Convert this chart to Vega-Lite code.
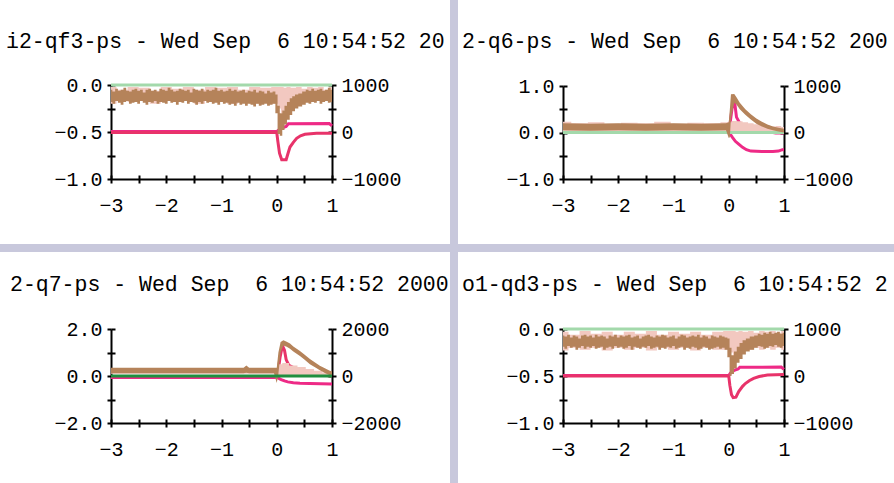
{
 "$schema": "https://vega.github.io/schema/vega-lite/v6.json",
 "background": "#c8c8dc",
 "padding": 0,
 "bounds": "flush",
 "spacing": 8,
 "columns": 2,
 "resolve": {"scale": {"x": "independent", "y": "independent"}},
 "config": {
  "view": {"stroke": null},
  "axis": {"domainColor": "#000", "domainWidth": 2, "tickColor": "#000", "tickWidth": 2, "tickSize": 4, "labelFont": "Liberation Mono", "labelFontSize": 20, "labelColor": "#000", "grid": false, "gridColor": "#000", "gridWidth": 2, "labelFlush": false, "labelOverlap": false, "labelBound": false},
  "title": {"font": "Liberation Mono", "fontSize": 21.5, "fontWeight": "normal", "color": "#000", "anchor": "start", "frame": "group", "baseline": "middle"}
 },
 "datasets": {
  "g": [{"x": -3, "v": 0}, {"x": 1, "v": 0}],
  "p1b": [
   {"x": -3, "lo": -0.18, "hi": -0.05}, {"x": -2.95, "lo": -0.2, "hi": -0.07}, {"x": -2.9, "lo": -0.17, "hi": -0.04}, {"x": -2.85, "lo": -0.19, "hi": -0.06},
   {"x": -2.8, "lo": -0.21, "hi": -0.05}, {"x": -2.75, "lo": -0.18, "hi": -0.03}, {"x": -2.7, "lo": -0.17, "hi": -0.06}, {"x": -2.65, "lo": -0.2, "hi": -0.07},
   {"x": -2.6, "lo": -0.19, "hi": -0.05}, {"x": -2.55, "lo": -0.18, "hi": -0.04}, {"x": -2.5, "lo": -0.2, "hi": -0.06}, {"x": -2.45, "lo": -0.17, "hi": -0.05},
   {"x": -2.4, "lo": -0.19, "hi": -0.08}, {"x": -2.35, "lo": -0.21, "hi": -0.05}, {"x": -2.3, "lo": -0.18, "hi": -0.04}, {"x": -2.25, "lo": -0.19, "hi": -0.06},
   {"x": -2.2, "lo": -0.17, "hi": -0.05}, {"x": -2.15, "lo": -0.2, "hi": -0.07}, {"x": -2.1, "lo": -0.18, "hi": -0.04}, {"x": -2.05, "lo": -0.19, "hi": -0.05},
   {"x": -2, "lo": -0.2, "hi": -0.06}, {"x": -1.95, "lo": -0.17, "hi": -0.03}, {"x": -1.9, "lo": -0.19, "hi": -0.05}, {"x": -1.85, "lo": -0.18, "hi": -0.07},
   {"x": -1.8, "lo": -0.21, "hi": -0.06}, {"x": -1.75, "lo": -0.18, "hi": -0.04}, {"x": -1.7, "lo": -0.19, "hi": -0.05}, {"x": -1.65, "lo": -0.17, "hi": -0.06},
   {"x": -1.6, "lo": -0.2, "hi": -0.05}, {"x": -1.55, "lo": -0.18, "hi": -0.08}, {"x": -1.5, "lo": -0.19, "hi": -0.04}, {"x": -1.45, "lo": -0.21, "hi": -0.05},
   {"x": -1.4, "lo": -0.18, "hi": -0.06}, {"x": -1.35, "lo": -0.2, "hi": -0.04}, {"x": -1.3, "lo": -0.17, "hi": -0.07}, {"x": -1.25, "lo": -0.19, "hi": -0.05},
   {"x": -1.2, "lo": -0.18, "hi": -0.06}, {"x": -1.15, "lo": -0.2, "hi": -0.05}, {"x": -1.1, "lo": -0.19, "hi": -0.03}, {"x": -1.05, "lo": -0.21, "hi": -0.06},
   {"x": -1, "lo": -0.18, "hi": -0.05}, {"x": -0.95, "lo": -0.2, "hi": -0.07}, {"x": -0.9, "lo": -0.19, "hi": -0.06}, {"x": -0.85, "lo": -0.21, "hi": -0.04},
   {"x": -0.8, "lo": -0.2, "hi": -0.06}, {"x": -0.75, "lo": -0.22, "hi": -0.05}, {"x": -0.7, "lo": -0.19, "hi": -0.07}, {"x": -0.65, "lo": -0.21, "hi": -0.06},
   {"x": -0.6, "lo": -0.2, "hi": -0.05}, {"x": -0.55, "lo": -0.22, "hi": -0.08}, {"x": -0.5, "lo": -0.2, "hi": -0.06}, {"x": -0.45, "lo": -0.21, "hi": -0.07},
   {"x": -0.4, "lo": -0.23, "hi": -0.05}, {"x": -0.35, "lo": -0.2, "hi": -0.08}, {"x": -0.3, "lo": -0.22, "hi": -0.06}, {"x": -0.25, "lo": -0.21, "hi": -0.07},
   {"x": -0.2, "lo": -0.2, "hi": -0.09}, {"x": -0.15, "lo": -0.22, "hi": -0.06}, {"x": -0.1, "lo": -0.21, "hi": -0.08}, {"x": -0.05, "lo": -0.2, "hi": -0.07},
   {"x": 0.0, "lo": -0.3, "hi": -0.1}, {"x": 0.03, "lo": -0.52, "hi": -0.22},
   {"x": 0.08, "lo": -0.54, "hi": -0.3}, {"x": 0.12, "lo": -0.48, "hi": -0.27}, {"x": 0.16, "lo": -0.42, "hi": -0.22}, {"x": 0.21, "lo": -0.37, "hi": -0.18},
   {"x": 0.26, "lo": -0.32, "hi": -0.14}, {"x": 0.3, "lo": -0.28, "hi": -0.12}, {"x": 0.36, "lo": -0.25, "hi": -0.1}, {"x": 0.42, "lo": -0.23, "hi": -0.09},
   {"x": 0.5, "lo": -0.21, "hi": -0.07}, {"x": 0.55, "lo": -0.19, "hi": -0.05}, {"x": 0.6, "lo": -0.2, "hi": -0.06}, {"x": 0.65, "lo": -0.18, "hi": -0.04},
   {"x": 0.7, "lo": -0.19, "hi": -0.06}, {"x": 0.75, "lo": -0.17, "hi": -0.05}, {"x": 0.8, "lo": -0.2, "hi": -0.04}, {"x": 0.85, "lo": -0.18, "hi": -0.06},
   {"x": 0.9, "lo": -0.17, "hi": -0.05}, {"x": 0.95, "lo": -0.19, "hi": -0.03}, {"x": 1.0, "lo": -0.18, "hi": -0.05}
  ],
  "p1k": [
   {"x": -3.0, "lo": -0.2, "hi": -0.02}, {"x": -2.8, "lo": -0.16, "hi": -0.05}, {"x": -2.6, "lo": -0.18, "hi": -0.02}, {"x": -2.4, "lo": -0.16, "hi": -0.03},
   {"x": -2.2, "lo": -0.2, "hi": -0.06}, {"x": -2.0, "lo": -0.16, "hi": -0.02}, {"x": -1.8, "lo": -0.18, "hi": -0.04}, {"x": -1.6, "lo": -0.16, "hi": -0.02},
   {"x": -1.4, "lo": -0.2, "hi": -0.05}, {"x": -1.2, "lo": -0.16, "hi": -0.02}, {"x": -1.0, "lo": -0.18, "hi": -0.03}, {"x": -0.8, "lo": -0.2, "hi": -0.02},
   {"x": -0.6, "lo": -0.16, "hi": -0.05}, {"x": -0.4, "lo": -0.2, "hi": -0.02}, {"x": -0.2, "lo": -0.18, "hi": -0.03}, {"x": 0.0, "lo": -0.2, "hi": -0.02},
   {"x": 0.05, "lo": -0.25, "hi": -0.02}, {"x": 0.1, "lo": -0.3, "hi": -0.02}, {"x": 0.15, "lo": -0.27, "hi": -0.03}, {"x": 0.2, "lo": -0.22, "hi": -0.02},
   {"x": 0.3, "lo": -0.17, "hi": -0.03}, {"x": 0.4, "lo": -0.15, "hi": -0.02}, {"x": 0.5, "lo": -0.14, "hi": -0.04}, {"x": 0.6, "lo": -0.16, "hi": -0.02},
   {"x": 0.7, "lo": -0.14, "hi": -0.03}, {"x": 0.8, "lo": -0.16, "hi": -0.02}, {"x": 0.9, "lo": -0.14, "hi": -0.05}, {"x": 1.0, "lo": -0.16, "hi": -0.02}
  ],
  "p1c": [
   {"x": -3, "v": -10}, {"x": 0, "v": -10}, {"x": 0.02, "v": -200}, {"x": 0.05, "v": -450}, {"x": 0.09, "v": -590}, {"x": 0.17, "v": -590},
   {"x": 0.21, "v": -430}, {"x": 0.24, "v": -320}, {"x": 0.3, "v": -220}, {"x": 0.36, "v": -135}, {"x": 0.43, "v": -80}, {"x": 0.51, "v": -50},
   {"x": 0.72, "v": -28}, {"x": 1.0, "v": -28}
  ],
  "p1m": [
   {"x": -3, "v": 8}, {"x": 0, "v": 8}, {"x": 0.03, "v": 40}, {"x": 0.1, "v": 90}, {"x": 0.17, "v": 120}, {"x": 0.21, "v": 175}, {"x": 0.95, "v": 180}, {"x": 1.0, "v": 130}
  ],
  "p2b": [
   {"x": -3.0, "lo": 0.05, "hi": 0.2}, {"x": -2.5, "lo": 0.04, "hi": 0.19}, {"x": -2.0, "lo": 0.05, "hi": 0.2}, {"x": -1.5, "lo": 0.04, "hi": 0.19},
   {"x": -1.0, "lo": 0.05, "hi": 0.2}, {"x": -0.5, "lo": 0.04, "hi": 0.19}, {"x": -0.05, "lo": 0.05, "hi": 0.2}, {"x": 0.0, "lo": -0.12, "hi": 0.22},
   {"x": 0.02, "lo": -0.1, "hi": 0.5}, {"x": 0.04, "lo": 0.3, "hi": 0.82}, {"x": 0.1, "lo": 0.64, "hi": 0.83}, {"x": 0.14, "lo": 0.6, "hi": 0.76},
   {"x": 0.2, "lo": 0.5, "hi": 0.64}, {"x": 0.3, "lo": 0.38, "hi": 0.5}, {"x": 0.4, "lo": 0.28, "hi": 0.39}, {"x": 0.5, "lo": 0.19, "hi": 0.3},
   {"x": 0.6, "lo": 0.13, "hi": 0.23}, {"x": 0.7, "lo": 0.08, "hi": 0.17}, {"x": 0.8, "lo": 0.05, "hi": 0.13}, {"x": 0.9, "lo": 0.02, "hi": 0.1},
   {"x": 1.0, "lo": 0.0, "hi": 0.08}
  ],
  "p2k": [
   {"x": -3.0, "lo": 0.02, "hi": 0.23}, {"x": -2.7, "lo": 0.02, "hi": 0.2}, {"x": -2.4, "lo": 0.02, "hi": 0.22}, {"x": -2.1, "lo": 0.02, "hi": 0.19},
   {"x": -1.8, "lo": 0.02, "hi": 0.21}, {"x": -1.5, "lo": 0.02, "hi": 0.2}, {"x": -1.2, "lo": 0.02, "hi": 0.23}, {"x": -0.9, "lo": 0.02, "hi": 0.19},
   {"x": -0.6, "lo": 0.02, "hi": 0.21}, {"x": -0.3, "lo": 0.02, "hi": 0.2}, {"x": 0.0, "lo": 0.02, "hi": 0.22}, {"x": 0.1, "lo": 0.0, "hi": 0.25},
   {"x": 0.2, "lo": 0.0, "hi": 0.24}, {"x": 0.3, "lo": 0.0, "hi": 0.22}, {"x": 0.4, "lo": 0.0, "hi": 0.2}, {"x": 0.5, "lo": 0.0, "hi": 0.18},
   {"x": 0.6, "lo": 0.0, "hi": 0.16}, {"x": 0.7, "lo": 0.0, "hi": 0.15}, {"x": 0.8, "lo": 0.0, "hi": 0.13}, {"x": 0.9, "lo": 0.0, "hi": 0.14},
   {"x": 1.0, "lo": 0.0, "hi": 0.12}
  ],
  "p2s": [
   {"x": -3, "v": 0}, {"x": 0, "v": 0}, {"x": 0.03, "v": 250}, {"x": 0.06, "v": 520}, {"x": 0.09, "v": 650}, {"x": 0.11, "v": 620},
   {"x": 0.14, "v": 330}, {"x": 0.2, "v": 200}, {"x": 0.3, "v": 130}, {"x": 0.5, "v": 60}, {"x": 0.7, "v": 20}, {"x": 0.85, "v": -10}, {"x": 1.0, "v": -10}
  ],
  "p2l": [
   {"x": -3, "v": 0}, {"x": 0, "v": 0}, {"x": 0.03, "v": -40}, {"x": 0.07, "v": -110}, {"x": 0.12, "v": -190}, {"x": 0.18, "v": -250},
   {"x": 0.25, "v": -320}, {"x": 0.32, "v": -370}, {"x": 0.4, "v": -400}, {"x": 0.6, "v": -410}, {"x": 0.8, "v": -410}, {"x": 0.9, "v": -400},
   {"x": 0.97, "v": -370}, {"x": 1.0, "v": -370}
  ],
  "p3b": [
   {"x": -3.0, "lo": 0.12, "hi": 0.35}, {"x": -2.0, "lo": 0.12, "hi": 0.35}, {"x": -1.0, "lo": 0.12, "hi": 0.35}, {"x": -0.6, "lo": 0.12, "hi": 0.35},
   {"x": -0.55, "lo": 0.14, "hi": 0.45}, {"x": -0.5, "lo": 0.12, "hi": 0.35}, {"x": -0.05, "lo": 0.12, "hi": 0.35}, {"x": 0.0, "lo": -0.3, "hi": 0.35},
   {"x": 0.03, "lo": 0.1, "hi": 1.0}, {"x": 0.07, "lo": 1.0, "hi": 1.45}, {"x": 0.12, "lo": 1.3, "hi": 1.52}, {"x": 0.18, "lo": 1.25, "hi": 1.46},
   {"x": 0.24, "lo": 1.16, "hi": 1.38}, {"x": 0.3, "lo": 1.04, "hi": 1.26}, {"x": 0.42, "lo": 0.85, "hi": 1.06}, {"x": 0.5, "lo": 0.7, "hi": 0.92},
   {"x": 0.6, "lo": 0.5, "hi": 0.72}, {"x": 0.7, "lo": 0.36, "hi": 0.56}, {"x": 0.78, "lo": 0.24, "hi": 0.44}, {"x": 0.88, "lo": 0.12, "hi": 0.32},
   {"x": 0.96, "lo": 0.03, "hi": 0.22}, {"x": 1.0, "lo": 0.0, "hi": 0.2}
  ],
  "p3k": [
   {"x": -3.0, "lo": 0.1, "hi": 0.3}, {"x": 0.0, "lo": 0.1, "hi": 0.3}, {"x": 0.05, "lo": 0.02, "hi": 0.5}, {"x": 0.15, "lo": 0.02, "hi": 0.55},
   {"x": 0.3, "lo": 0.02, "hi": 0.45}, {"x": 0.45, "lo": 0.02, "hi": 0.38}, {"x": 0.6, "lo": 0.02, "hi": 0.3}, {"x": 0.75, "lo": 0.02, "hi": 0.22},
   {"x": 0.9, "lo": 0.02, "hi": 0.15}, {"x": 1.0, "lo": 0.02, "hi": 0.12}
  ],
  "p3s": [
   {"x": -3, "v": -50}, {"x": 0, "v": -50}, {"x": 0.03, "v": 300}, {"x": 0.06, "v": 800}, {"x": 0.09, "v": 1150}, {"x": 0.11, "v": 1250},
   {"x": 0.14, "v": 1100}, {"x": 0.17, "v": 700}, {"x": 0.22, "v": 450}, {"x": 0.35, "v": 300}, {"x": 0.5, "v": 180}, {"x": 0.7, "v": 80},
   {"x": 0.9, "v": 20}, {"x": 1.0, "v": 0}
  ],
  "p3l": [
   {"x": -3, "v": -60}, {"x": 0, "v": -60}, {"x": 0.03, "v": -90}, {"x": 0.08, "v": -150}, {"x": 0.14, "v": -210}, {"x": 0.2, "v": -250},
   {"x": 0.3, "v": -290}, {"x": 0.42, "v": -310}, {"x": 0.6, "v": -320}, {"x": 0.8, "v": -330}, {"x": 1.0, "v": -340}
  ],
  "p4b": [
   {"x": -3, "lo": -0.19, "hi": -0.07}, {"x": -2.95, "lo": -0.21, "hi": -0.08}, {"x": -2.9, "lo": -0.18, "hi": -0.06}, {"x": -2.85, "lo": -0.2, "hi": -0.09},
   {"x": -2.8, "lo": -0.19, "hi": -0.07}, {"x": -2.75, "lo": -0.22, "hi": -0.08}, {"x": -2.7, "lo": -0.2, "hi": -0.1}, {"x": -2.65, "lo": -0.18, "hi": -0.07},
   {"x": -2.6, "lo": -0.21, "hi": -0.06}, {"x": -2.55, "lo": -0.19, "hi": -0.08}, {"x": -2.5, "lo": -0.2, "hi": -0.07}, {"x": -2.45, "lo": -0.18, "hi": -0.09},
   {"x": -2.4, "lo": -0.21, "hi": -0.06}, {"x": -2.35, "lo": -0.2, "hi": -0.08}, {"x": -2.3, "lo": -0.19, "hi": -0.07}, {"x": -2.25, "lo": -0.22, "hi": -0.08},
   {"x": -2.2, "lo": -0.2, "hi": -0.1}, {"x": -2.15, "lo": -0.19, "hi": -0.07}, {"x": -2.1, "lo": -0.21, "hi": -0.08}, {"x": -2.05, "lo": -0.18, "hi": -0.06},
   {"x": -2, "lo": -0.2, "hi": -0.09}, {"x": -1.95, "lo": -0.19, "hi": -0.07}, {"x": -1.9, "lo": -0.21, "hi": -0.08}, {"x": -1.85, "lo": -0.2, "hi": -0.07},
   {"x": -1.8, "lo": -0.18, "hi": -0.06}, {"x": -1.75, "lo": -0.22, "hi": -0.09}, {"x": -1.7, "lo": -0.19, "hi": -0.08}, {"x": -1.65, "lo": -0.2, "hi": -0.07},
   {"x": -1.6, "lo": -0.21, "hi": -0.1}, {"x": -1.55, "lo": -0.19, "hi": -0.08}, {"x": -1.5, "lo": -0.2, "hi": -0.07}, {"x": -1.45, "lo": -0.18, "hi": -0.06},
   {"x": -1.4, "lo": -0.21, "hi": -0.08}, {"x": -1.35, "lo": -0.2, "hi": -0.09}, {"x": -1.3, "lo": -0.19, "hi": -0.07}, {"x": -1.25, "lo": -0.22, "hi": -0.08},
   {"x": -1.2, "lo": -0.2, "hi": -0.06}, {"x": -1.15, "lo": -0.21, "hi": -0.07}, {"x": -1.1, "lo": -0.19, "hi": -0.09}, {"x": -1.05, "lo": -0.2, "hi": -0.08},
   {"x": -1, "lo": -0.18, "hi": -0.07}, {"x": -0.95, "lo": -0.21, "hi": -0.1}, {"x": -0.9, "lo": -0.2, "hi": -0.08}, {"x": -0.85, "lo": -0.19, "hi": -0.06},
   {"x": -0.8, "lo": -0.22, "hi": -0.07}, {"x": -0.75, "lo": -0.2, "hi": -0.09}, {"x": -0.7, "lo": -0.21, "hi": -0.08}, {"x": -0.65, "lo": -0.19, "hi": -0.07},
   {"x": -0.6, "lo": -0.2, "hi": -0.08}, {"x": -0.55, "lo": -0.22, "hi": -0.06}, {"x": -0.5, "lo": -0.21, "hi": -0.09}, {"x": -0.45, "lo": -0.19, "hi": -0.07},
   {"x": -0.4, "lo": -0.2, "hi": -0.08}, {"x": -0.35, "lo": -0.22, "hi": -0.1}, {"x": -0.3, "lo": -0.21, "hi": -0.07}, {"x": -0.25, "lo": -0.2, "hi": -0.08},
   {"x": -0.2, "lo": -0.19, "hi": -0.09}, {"x": -0.15, "lo": -0.21, "hi": -0.07}, {"x": -0.1, "lo": -0.2, "hi": -0.08}, {"x": -0.05, "lo": -0.22, "hi": -0.09},
   {"x": 0.0, "lo": -0.3, "hi": -0.1}, {"x": 0.03, "lo": -0.5, "hi": -0.2},
   {"x": 0.07, "lo": -0.48, "hi": -0.28}, {"x": 0.12, "lo": -0.42, "hi": -0.24}, {"x": 0.17, "lo": -0.36, "hi": -0.19}, {"x": 0.22, "lo": -0.32, "hi": -0.15},
   {"x": 0.28, "lo": -0.27, "hi": -0.12}, {"x": 0.34, "lo": -0.24, "hi": -0.1}, {"x": 0.42, "lo": -0.22, "hi": -0.08}, {"x": 0.5, "lo": -0.2, "hi": -0.07},
   {"x": 0.55, "lo": -0.18, "hi": -0.05}, {"x": 0.6, "lo": -0.19, "hi": -0.06}, {"x": 0.65, "lo": -0.21, "hi": -0.04}, {"x": 0.7, "lo": -0.2, "hi": -0.05},
   {"x": 0.75, "lo": -0.18, "hi": -0.03}, {"x": 0.8, "lo": -0.19, "hi": -0.05}, {"x": 0.85, "lo": -0.17, "hi": -0.04}, {"x": 0.9, "lo": -0.19, "hi": -0.03},
   {"x": 0.95, "lo": -0.2, "hi": -0.05}, {"x": 1.0, "lo": -0.18, "hi": -0.04}
  ],
  "p4k": [
   {"x": -3.0, "lo": -0.23, "hi": -0.03}, {"x": -2.8, "lo": -0.2, "hi": -0.06}, {"x": -2.6, "lo": -0.22, "hi": -0.02}, {"x": -2.4, "lo": -0.2, "hi": -0.05},
   {"x": -2.2, "lo": -0.23, "hi": -0.03}, {"x": -2.0, "lo": -0.2, "hi": -0.06}, {"x": -1.8, "lo": -0.22, "hi": -0.03}, {"x": -1.6, "lo": -0.2, "hi": -0.05},
   {"x": -1.4, "lo": -0.23, "hi": -0.02}, {"x": -1.2, "lo": -0.2, "hi": -0.06}, {"x": -1.0, "lo": -0.22, "hi": -0.03}, {"x": -0.8, "lo": -0.2, "hi": -0.05},
   {"x": -0.6, "lo": -0.23, "hi": -0.03}, {"x": -0.4, "lo": -0.2, "hi": -0.06}, {"x": -0.2, "lo": -0.22, "hi": -0.03}, {"x": 0.0, "lo": -0.22, "hi": -0.02},
   {"x": 0.05, "lo": -0.25, "hi": -0.02}, {"x": 0.1, "lo": -0.3, "hi": -0.02}, {"x": 0.15, "lo": -0.27, "hi": -0.03}, {"x": 0.2, "lo": -0.22, "hi": -0.02},
   {"x": 0.3, "lo": -0.2, "hi": -0.03}, {"x": 0.4, "lo": -0.22, "hi": -0.02}, {"x": 0.5, "lo": -0.2, "hi": -0.04}, {"x": 0.6, "lo": -0.22, "hi": -0.02},
   {"x": 0.7, "lo": -0.2, "hi": -0.03}, {"x": 0.8, "lo": -0.22, "hi": -0.02}, {"x": 0.9, "lo": -0.2, "hi": -0.04}, {"x": 1.0, "lo": -0.22, "hi": -0.02}
  ],
  "p4c": [
   {"x": -3, "v": 0}, {"x": 0, "v": 0}, {"x": 0.02, "v": -200}, {"x": 0.05, "v": -400}, {"x": 0.08, "v": -460}, {"x": 0.13, "v": -450},
   {"x": 0.18, "v": -330}, {"x": 0.25, "v": -220}, {"x": 0.3, "v": -160}, {"x": 0.37, "v": -100}, {"x": 0.45, "v": -50}, {"x": 0.55, "v": -10},
   {"x": 0.7, "v": 20}, {"x": 1.0, "v": 30}
  ],
  "p4m": [
   {"x": -3, "v": 8}, {"x": 0, "v": 8}, {"x": 0.03, "v": 60}, {"x": 0.1, "v": 120}, {"x": 0.17, "v": 150}, {"x": 0.2, "v": 185}, {"x": 0.95, "v": 190}, {"x": 1.0, "v": 140}
  ]
 },
 "concat": [
  {
   "width": 450, "height": 244,
   "view": {"fill": "white", "stroke": null},
   "title": {"text": "i2-qf3-ps - Wed Sep \u00a06 10:54:52 20", "dx": 6, "offset": -52},
   "resolve": {"scale": {"y": "independent"}},
   "layer": [
    {"layer": [
     {"data": {"name": "p1m"}, "mark": {"type": "line", "color": "#ee2a86", "strokeWidth": 3},
      "encoding": {
       "x": {"field": "x", "type": "quantitative", "scale": {"domain": [-3, 1], "range": [111, 332], "nice": false, "zero": false},
             "axis": {"orient": "bottom", "offset": -69, "domain": false, "tickSize": 8, "title": null, "values": [-3, -2.5, -2, -1.5, -1, -0.5, 0, 0.5, 1], "labelExpr": "datum.value % 1 === 0 ? format(datum.value, 'd') : ''", "labelPadding": 12}},
       "y": {"field": "v", "type": "quantitative", "scale": {"domain": [-1000, 1000], "range": [179, 85], "nice": false, "zero": false},
             "axis": {"orient": "right", "offset": -118, "title": null, "values": [-1000, -500, 0, 500, 1000], "labelExpr": "datum.value % 1000 === 0 ? format(datum.value, 'd') : ''", "labelPadding": 5}}}},
     {"data": {"name": "p1c"}, "mark": {"type": "line", "color": "#e8336a", "strokeWidth": 3},
      "encoding": {
       "x": {"field": "x", "type": "quantitative", "scale": {"domain": [-3, 1], "range": [111, 332], "nice": false, "zero": false}},
       "y": {"field": "v", "type": "quantitative", "scale": {"domain": [-1000, 1000], "range": [179, 85], "nice": false, "zero": false}}}}
    ]},
    {"layer": [
     {"data": {"name": "p1k"}, "mark": {"type": "area", "interpolate": "step", "color": "#f2c8c0", "opacity": 1},
      "encoding": {
       "x": {"field": "x", "type": "quantitative", "scale": {"domain": [-3, 1], "range": [111, 332], "nice": false, "zero": false}},
       "y": {"field": "lo", "type": "quantitative", "scale": {"domain": [-1, 0], "range": [179, 85], "nice": false, "zero": false},
             "axis": {"orient": "left", "offset": -111, "title": null, "values": [-1, -0.75, -0.5, -0.25, 0], "labelExpr": "abs(datum.value * 2) % 1 === 0 ? format(datum.value, '.1f') : ''", "labelPadding": 5, "grid": true, "gridDash": {"condition": {"test": "datum.value === -1", "value": [1, 0]}, "value": [4, 213, 4]}}},
       "y2": {"field": "hi"}}},
     {"data": {"name": "g"}, "mark": {"type": "line", "color": "#a3d9ab", "strokeWidth": 3},
      "encoding": {
       "x": {"field": "x", "type": "quantitative", "scale": {"domain": [-3, 1], "range": [111, 332], "nice": false, "zero": false}},
       "y": {"field": "v", "type": "quantitative", "scale": {"domain": [-1, 0], "range": [179, 85], "nice": false, "zero": false}}}},
     {"data": {"name": "p1b"}, "mark": {"type": "area", "interpolate": "step", "color": "#b5835a", "opacity": 1},
      "encoding": {
       "x": {"field": "x", "type": "quantitative", "scale": {"domain": [-3, 1], "range": [111, 332], "nice": false, "zero": false}},
       "y": {"field": "lo", "type": "quantitative", "scale": {"domain": [-1, 0], "range": [179, 85], "nice": false, "zero": false}},
       "y2": {"field": "hi"}}}
    ]}
   ]
  },
  {
   "width": 436, "height": 244,
   "view": {"fill": "white", "stroke": null},
   "title": {"text": "2-q6-ps - Wed Sep \u00a06 10:54:52 200", "dx": 4, "offset": -52},
   "resolve": {"scale": {"y": "independent"}},
   "layer": [
    {"layer": [
     {"data": {"name": "p2s"}, "mark": {"type": "line", "color": "#ee2a86", "strokeWidth": 3},
      "encoding": {
       "x": {"field": "x", "type": "quantitative", "scale": {"domain": [-3, 1], "range": [105, 326], "nice": false, "zero": false},
             "axis": {"orient": "bottom", "offset": -69, "domain": false, "tickSize": 8, "title": null, "values": [-3, -2.5, -2, -1.5, -1, -0.5, 0, 0.5, 1], "labelExpr": "datum.value % 1 === 0 ? format(datum.value, 'd') : ''", "labelPadding": 12}},
       "y": {"field": "v", "type": "quantitative", "scale": {"domain": [-1000, 1000], "range": [179, 86], "nice": false, "zero": false},
             "axis": {"orient": "right", "offset": -110, "title": null, "values": [-1000, -500, 0, 500, 1000], "labelExpr": "datum.value % 1000 === 0 ? format(datum.value, 'd') : ''", "labelPadding": 5}}}},
     {"data": {"name": "p2l"}, "mark": {"type": "line", "color": "#ee2a86", "strokeWidth": 3},
      "encoding": {
       "x": {"field": "x", "type": "quantitative", "scale": {"domain": [-3, 1], "range": [105, 326], "nice": false, "zero": false}},
       "y": {"field": "v", "type": "quantitative", "scale": {"domain": [-1000, 1000], "range": [179, 86], "nice": false, "zero": false}}}}
    ]},
    {"layer": [
     {"data": {"name": "p2k"}, "mark": {"type": "area", "interpolate": "step", "color": "#f2c8c0", "opacity": 1},
      "encoding": {
       "x": {"field": "x", "type": "quantitative", "scale": {"domain": [-3, 1], "range": [105, 326], "nice": false, "zero": false}},
       "y": {"field": "lo", "type": "quantitative", "scale": {"domain": [-1, 1], "range": [179, 86], "nice": false, "zero": false},
             "axis": {"orient": "left", "offset": -105, "title": null, "values": [-1, -0.5, 0, 0.5, 1], "labelExpr": "datum.value % 1 === 0 ? format(datum.value, '.1f') : ''", "labelPadding": 5, "grid": true, "gridDash": {"condition": {"test": "datum.value === -1", "value": [1, 0]}, "value": [4, 213, 4]}}},
       "y2": {"field": "hi"}}},
     {"data": {"name": "g"}, "mark": {"type": "line", "color": "#a3d9ab", "strokeWidth": 3},
      "encoding": {
       "x": {"field": "x", "type": "quantitative", "scale": {"domain": [-3, 1], "range": [105, 326], "nice": false, "zero": false}},
       "y": {"field": "v", "type": "quantitative", "scale": {"domain": [-1, 1], "range": [179, 86], "nice": false, "zero": false}}}},
     {"data": {"name": "p2b"}, "mark": {"type": "area", "color": "#b5835a", "opacity": 1},
      "encoding": {
       "x": {"field": "x", "type": "quantitative", "scale": {"domain": [-3, 1], "range": [105, 326], "nice": false, "zero": false}},
       "y": {"field": "lo", "type": "quantitative", "scale": {"domain": [-1, 1], "range": [179, 86], "nice": false, "zero": false}},
       "y2": {"field": "hi"}}}
    ]}
   ]
  },
  {
   "width": 450, "height": 231,
   "view": {"fill": "white", "stroke": null},
   "title": {"text": "2-q7-ps - Wed Sep \u00a06 10:54:52 2000", "dx": 10, "offset": -43},
   "resolve": {"scale": {"y": "independent"}},
   "layer": [
    {"layer": [
     {"data": {"name": "p3s"}, "mark": {"type": "line", "color": "#e8336a", "strokeWidth": 3},
      "encoding": {
       "x": {"field": "x", "type": "quantitative", "scale": {"domain": [-3, 1], "range": [111, 332], "nice": false, "zero": false},
             "axis": {"orient": "bottom", "offset": -64, "domain": false, "tickSize": 8, "title": null, "values": [-3, -2.5, -2, -1.5, -1, -0.5, 0, 0.5, 1], "labelExpr": "datum.value % 1 === 0 ? format(datum.value, 'd') : ''", "labelPadding": 12}},
       "y": {"field": "v", "type": "quantitative", "scale": {"domain": [-2000, 2000], "range": [171, 77], "nice": false, "zero": false},
             "axis": {"orient": "right", "offset": -118, "title": null, "values": [-2000, -1000, 0, 1000, 2000], "labelExpr": "datum.value % 2000 === 0 ? format(datum.value, 'd') : ''", "labelPadding": 5}}}},
     {"data": {"name": "p3l"}, "mark": {"type": "line", "color": "#ee2a86", "strokeWidth": 3},
      "encoding": {
       "x": {"field": "x", "type": "quantitative", "scale": {"domain": [-3, 1], "range": [111, 332], "nice": false, "zero": false}},
       "y": {"field": "v", "type": "quantitative", "scale": {"domain": [-2000, 2000], "range": [171, 77], "nice": false, "zero": false}}}}
    ]},
    {"layer": [
     {"data": {"name": "p3k"}, "mark": {"type": "area", "interpolate": "step", "color": "#f2c8c0", "opacity": 1},
      "encoding": {
       "x": {"field": "x", "type": "quantitative", "scale": {"domain": [-3, 1], "range": [111, 332], "nice": false, "zero": false}},
       "y": {"field": "lo", "type": "quantitative", "scale": {"domain": [-2, 2], "range": [171, 77], "nice": false, "zero": false},
             "axis": {"orient": "left", "offset": -111, "title": null, "values": [-2, -1, 0, 1, 2], "labelExpr": "datum.value % 2 === 0 ? format(datum.value, '.1f') : ''", "labelPadding": 5, "grid": true, "gridDash": {"condition": {"test": "datum.value === -2", "value": [1, 0]}, "value": [4, 213, 4]}}},
       "y2": {"field": "hi"}}},
     {"data": {"name": "p3b"}, "mark": {"type": "area", "color": "#b5835a", "opacity": 1},
      "encoding": {
       "x": {"field": "x", "type": "quantitative", "scale": {"domain": [-3, 1], "range": [111, 332], "nice": false, "zero": false}},
       "y": {"field": "lo", "type": "quantitative", "scale": {"domain": [-2, 2], "range": [171, 77], "nice": false, "zero": false}},
       "y2": {"field": "hi"}}},
     {"data": {"name": "g"}, "mark": {"type": "line", "color": "#1f8f3f", "strokeWidth": 3},
      "encoding": {
       "x": {"field": "x", "type": "quantitative", "scale": {"domain": [-3, 1], "range": [111, 332], "nice": false, "zero": false}},
       "y": {"field": "v", "type": "quantitative", "scale": {"domain": [-2, 2], "range": [171, 77], "nice": false, "zero": false}}}}
    ]}
   ]
  },
  {
   "width": 436, "height": 231,
   "view": {"fill": "white", "stroke": null},
   "title": {"text": "o1-qd3-ps - Wed Sep \u00a06 10:54:52 2", "dx": 4, "offset": -43},
   "resolve": {"scale": {"y": "independent"}},
   "layer": [
    {"layer": [
     {"data": {"name": "p4m"}, "mark": {"type": "line", "color": "#ee2a86", "strokeWidth": 3},
      "encoding": {
       "x": {"field": "x", "type": "quantitative", "scale": {"domain": [-3, 1], "range": [105, 326], "nice": false, "zero": false},
             "axis": {"orient": "bottom", "offset": -64, "domain": false, "tickSize": 8, "title": null, "values": [-3, -2.5, -2, -1.5, -1, -0.5, 0, 0.5, 1], "labelExpr": "datum.value % 1 === 0 ? format(datum.value, 'd') : ''", "labelPadding": 12}},
       "y": {"field": "v", "type": "quantitative", "scale": {"domain": [-1000, 1000], "range": [171, 77], "nice": false, "zero": false},
             "axis": {"orient": "right", "offset": -110, "title": null, "values": [-1000, -500, 0, 500, 1000], "labelExpr": "datum.value % 1000 === 0 ? format(datum.value, 'd') : ''", "labelPadding": 5}}}},
     {"data": {"name": "p4c"}, "mark": {"type": "line", "color": "#e8336a", "strokeWidth": 3},
      "encoding": {
       "x": {"field": "x", "type": "quantitative", "scale": {"domain": [-3, 1], "range": [105, 326], "nice": false, "zero": false}},
       "y": {"field": "v", "type": "quantitative", "scale": {"domain": [-1000, 1000], "range": [171, 77], "nice": false, "zero": false}}}}
    ]},
    {"layer": [
     {"data": {"name": "p4k"}, "mark": {"type": "area", "interpolate": "step", "color": "#f2c8c0", "opacity": 1},
      "encoding": {
       "x": {"field": "x", "type": "quantitative", "scale": {"domain": [-3, 1], "range": [105, 326], "nice": false, "zero": false}},
       "y": {"field": "lo", "type": "quantitative", "scale": {"domain": [-1, 0], "range": [171, 77], "nice": false, "zero": false},
             "axis": {"orient": "left", "offset": -105, "title": null, "values": [-1, -0.75, -0.5, -0.25, 0], "labelExpr": "abs(datum.value * 2) % 1 === 0 ? format(datum.value, '.1f') : ''", "labelPadding": 5, "grid": true, "gridDash": {"condition": {"test": "datum.value === -1", "value": [1, 0]}, "value": [4, 213, 4]}}},
       "y2": {"field": "hi"}}},
     {"data": {"name": "g"}, "mark": {"type": "line", "color": "#a3d9ab", "strokeWidth": 3},
      "encoding": {
       "x": {"field": "x", "type": "quantitative", "scale": {"domain": [-3, 1], "range": [105, 326], "nice": false, "zero": false}},
       "y": {"field": "v", "type": "quantitative", "scale": {"domain": [-1, 0], "range": [171, 77], "nice": false, "zero": false}}}},
     {"data": {"name": "p4b"}, "mark": {"type": "area", "interpolate": "step", "color": "#b5835a", "opacity": 1},
      "encoding": {
       "x": {"field": "x", "type": "quantitative", "scale": {"domain": [-3, 1], "range": [105, 326], "nice": false, "zero": false}},
       "y": {"field": "lo", "type": "quantitative", "scale": {"domain": [-1, 0], "range": [171, 77], "nice": false, "zero": false}},
       "y2": {"field": "hi"}}}
    ]}
   ]
  }
 ]
}
